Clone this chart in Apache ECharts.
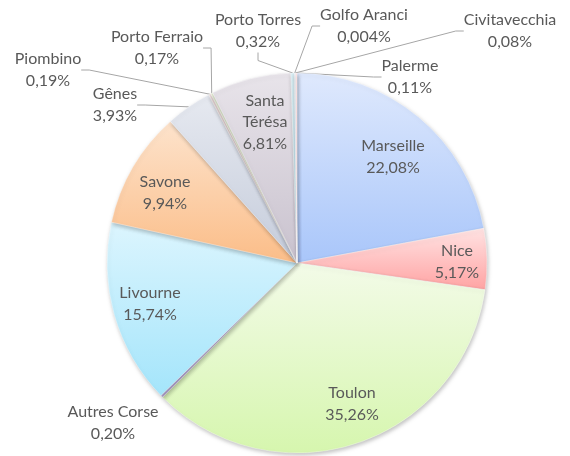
<!DOCTYPE html>
<html>
<head>
<meta charset="utf-8">
<script src="https://cdn.jsdelivr.net/npm/echarts@6/dist/echarts.min.js"></script>
<style>
html,body{margin:0;padding:0;background:#fff;}
#chart{width:570px;height:456px;}
</style>
</head>
<body>
<div id="chart"></div>
<script>
// ports, clockwise from 12 o'clock
const ports = ['Marseille', 'Nice', 'Toulon', 'Autres Corse', 'Livourne', 'Savone', 'Gênes',
    'Piombino', 'Porto Ferraio', 'Santa Térésa', 'Porto Torres', 'Golfo Aranci', 'Civitavecchia', 'Palerme'];
// part de chaque port en %
const shares = [22.08, 5.17, 35.26, 0.20, 15.74, 9.94, 3.93, 0.19, 0.17, 6.81, 0.32, 0.004, 0.08, 0.11];
// gradient ends (top -> bottom)
const lightColors = ['#dfe9fd', '#ffe3e3', '#f3fbe8', '#ddd2f0', '#dcf5fe', '#fde3cc', '#e6e9f0',
    '#eddcdc', '#e6edd6', '#e8e4ea', '#d9eef4', '#fbe2cc', '#dbe6f8', '#fbdcdc'];
const darkColors = ['#a9c6fa', '#ffa3a3', '#d6f6ae', '#bfaee0', '#a4e5fb', '#fbbd88', '#c5ccdb',
    '#d6b8b6', '#c9d6a8', '#c9c2ce', '#aed6e2', '#f2c29a', '#b3c9ee', '#f2b0b0'];
// labels drawn inside their slice
const insideLabels = ['Marseille', 'Nice', 'Toulon', 'Livourne', 'Savone', 'Santa Térésa'];
// where each label sits (text centre)
const labelSpots = {
    'Marseille': [393, 157],
    'Nice': [457, 262],
    'Toulon': [352, 404],
    'Livourne': [150, 304],
    'Savone': [165, 193],
    'Santa Térésa': [265, 122],
    'Autres Corse': [113, 423],
    'Gênes': [115, 105],
    'Piombino': [48, 70],
    'Porto Ferraio': [157, 48],
    'Porto Torres': [258, 31],
    'Golfo Aranci': [364, 26],
    'Civitavecchia': [510, 31],
    'Palerme': [410, 77]
};

const fmtPct = v => (v < 0.01 ? v.toFixed(3) : v.toFixed(2)).replace('.', ',') + '%';

var chart = echarts.init(document.getElementById('chart'));

const pieData = ports.map((name, i) => {
    const inside = insideLabels.indexOf(name) >= 0;
    return {
        name: name,
        value: shares[i],
        itemStyle: {
            color: new echarts.graphic.LinearGradient(0, 0, 0, 1, [
                { offset: 0, color: lightColors[i] },
                { offset: 1, color: darkColors[i] }
            ])
        },
        label: { position: inside ? 'inside' : 'outside' },
        labelLine: { show: !inside && name !== 'Autres Corse' }
    };
});

var option = {
    animation: false,
    series: [{
        type: 'pie',
        center: [297, 263],
        radius: 190,
        startAngle: 90,
        clockwise: true,
        avoidLabelOverlap: false,
        data: pieData,
        itemStyle: {
            borderColor: 'rgba(255,255,255,0.7)',
            borderWidth: 0.5,
            shadowBlur: 4,
            shadowOffsetX: 1,
            shadowOffsetY: 2,
            shadowColor: 'rgba(0,0,0,0.25)'
        },
        label: {
            fontFamily: 'Lato',
            fontSize: 16,
            lineHeight: 21.5,
            color: '#595959',
            align: 'center',
            formatter: p => (p.name === 'Santa Térésa' ? 'Santa\nTérésa' : p.name) + '\n' + fmtPct(p.value)
        },
        labelLine: {
            length: 8,
            length2: 8,
            lineStyle: { color: '#a6a6a6', width: 1 }
        },
        labelLayout: function (params) {
            const spot = labelSpots[ports[params.dataIndex]];
            return { x: spot[0], y: spot[1], align: 'center', verticalAlign: 'middle' };
        }
    }]
};

chart.setOption(option);
</script>
</body>
</html>
